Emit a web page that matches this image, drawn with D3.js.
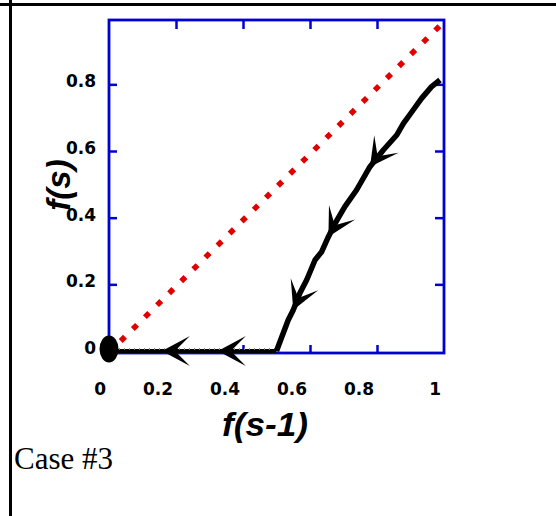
<!DOCTYPE html>
<html>
<head>
<meta charset="utf-8">
<script src="https://cdn.jsdelivr.net/npm/d3@7"></script>
<style>
  html, body { margin: 0; padding: 0; background: #fff; }
  .tick-label { font-family: "DejaVu Sans", sans-serif; font-weight: bold; font-size: 17px; }
  .axis-title { font-family: "Liberation Sans", Arial, sans-serif; font-weight: bold; font-style: italic; font-size: 33px; }
  .caption { font-family: "Liberation Serif", "Times New Roman", serif; font-size: 31px; }
</style>
</head>
<body>
<div class="chart"></div>
<script>
// Case #3: f(s) against f(s-1)
var xTicks = [0, 0.2, 0.4, 0.6, 0.8, 1];
var xTickLabels = ["0", "0.2", "0.4", "0.6", "0.8", "1"];
var yTicks = [0, 0.2, 0.4, 0.6, 0.8];
var yTickLabels = ["0", "0.2", "0.4", "0.6", "0.8"];

// red dotted y = x reference
var diagX = [0.035, 0.99];
var diagY = [0.03, 0.978];

// black trajectory
var pathX = [0, 0.5, 0.516, 0.535, 0.550, 0.570, 0.590, 0.615, 0.635, 0.655, 0.675,
             0.704, 0.739, 0.779, 0.819, 0.859, 0.879, 0.908, 0.933, 0.963, 0.988];
var pathY = [0, 0, 0.043, 0.093, 0.123, 0.174, 0.213, 0.273, 0.298, 0.343, 0.383,
             0.433, 0.483, 0.553, 0.603, 0.648, 0.683, 0.723, 0.758, 0.793, 0.813];

// arrow heads (tips) along the trajectory
var arrowX = [0.158, 0.325, 0.550, 0.655, 0.779];
var arrowY = [0, 0, 0.123, 0.343, 0.553];

// start point marker
var startX = 0, startY = 0;

var svgWidth = 556, svgHeight = 516;

var svg = d3.select(".chart")
    .append("svg")
    .attr("width", svgWidth)
    .attr("height", svgHeight);

// table cell borders
svg.append("rect").attr("x", 0).attr("y", 3).attr("width", svgWidth).attr("height", 3).attr("fill", "#000");
svg.append("rect").attr("x", 9).attr("y", 0).attr("width", 3).attr("height", svgHeight).attr("fill", "#000");

var xScale = d3.scaleLinear().domain([0, 1]).range([109, 444]);
var yScale = d3.scaleLinear().domain([-0.006, 0.993]).range([353, 20]);

var blue = "#0000d2";
var x0 = xScale(0), x1 = xScale(1);
var yBot = yScale(-0.006), yTop = yScale(0.993);

var chart = svg.append("g");

// inner ticks, all four sides
var innerX = xTicks.slice(1, -1);
var innerY = yTicks.slice(1);

function styleTicks(g) {
    g.select(".domain").remove();
    g.selectAll("line").attr("stroke", blue).attr("stroke-width", 2.5);
}

chart.append("g")
    .attr("transform", "translate(0," + yBot + ")")
    .call(d3.axisBottom(xScale).tickValues(innerX).tickSize(-8).tickFormat(""))
    .call(styleTicks);
chart.append("g")
    .attr("transform", "translate(0," + yTop + ")")
    .call(d3.axisTop(xScale).tickValues(innerX).tickSize(-9).tickFormat(""))
    .call(styleTicks);
chart.append("g")
    .attr("transform", "translate(" + x0 + ",0)")
    .call(d3.axisLeft(yScale).tickValues(innerY).tickSize(-8).tickFormat(""))
    .call(styleTicks);
chart.append("g")
    .attr("transform", "translate(" + x1 + ",0)")
    .call(d3.axisRight(yScale).tickValues(innerY).tickSize(-9).tickFormat(""))
    .call(styleTicks);

// frame
chart.append("rect")
    .attr("x", x0).attr("y", yTop)
    .attr("width", x1 - x0).attr("height", yBot - yTop)
    .attr("fill", "none")
    .attr("stroke", blue)
    .attr("stroke-width", 2.8);

// tick labels
chart.selectAll(".xlab")
    .data(xTicks)
    .enter()
    .append("text")
    .attr("class", "tick-label")
    .attr("x", function(d) { return xScale(d) - 3; })
    .attr("y", 395)
    .attr("text-anchor", "end")
    .text(function(d, i) { return xTickLabels[i]; });

chart.selectAll(".ylab")
    .data(yTicks)
    .enter()
    .append("text")
    .attr("class", "tick-label")
    .attr("x", x0 - 13)
    .attr("y", function(d) { return yScale(d) + 3; })
    .attr("text-anchor", "end")
    .text(function(d, i) { return yTickLabels[i]; });

// y = x dotted line
var line = d3.line()
    .x(function(d) { return xScale(d[0]); })
    .y(function(d) { return yScale(d[1]); });

chart.append("path")
    .datum(d3.zip(diagX, diagY))
    .attr("d", line)
    .attr("fill", "none")
    .attr("stroke", "#e00000")
    .attr("stroke-width", 5.5)
    .attr("stroke-dasharray", "6,11");

// trajectory
var traj = d3.zip(pathX, pathY);
chart.append("path")
    .datum(traj.slice(0, 2))
    .attr("d", line)
    .attr("fill", "none")
    .attr("stroke", "#000")
    .attr("stroke-width", 4);
chart.append("path")
    .datum(traj.slice(0, 2))
    .attr("d", line)
    .attr("transform", "translate(0,-2)")
    .attr("fill", "none")
    .attr("stroke", "#888")
    .attr("stroke-width", 2)
    .attr("stroke-dasharray", "1,4");
chart.append("path")
    .datum(traj.slice(1))
    .attr("d", line)
    .attr("fill", "none")
    .attr("stroke", "#000")
    .attr("stroke-width", 5.5)
    .attr("stroke-linejoin", "round");

// barbed arrow heads pointing back along the trajectory
function nearestIndex(px, py) {
    var best = 0, bestD = Infinity;
    traj.forEach(function(p, i) {
        var d = Math.pow(p[0] - px, 2) + Math.pow(p[1] - py, 2);
        if (d < bestD) { bestD = d; best = i; }
    });
    return best;
}

chart.selectAll(".arrow")
    .data(d3.zip(arrowX, arrowY))
    .enter()
    .append("path")
    .attr("class", "arrow")
    .attr("d", "M0,0 L28,-15 L13,0 L28,15 Z")
    .attr("fill", "#000")
    .attr("transform", function(d) {
        var tx = xScale(d[0]), ty = yScale(d[1]);
        var i = nearestIndex(d[0], d[1]);
        var a, b;
        if (d[1] === 0) { a = traj[0]; b = traj[1]; }
        else { a = traj[Math.max(1, i - 2)]; b = traj[Math.min(traj.length - 1, i + 2)]; }
        var ang = Math.atan2(yScale(b[1]) - yScale(a[1]), xScale(b[0]) - xScale(a[0])) * 180 / Math.PI;
        return "translate(" + tx + "," + ty + ") rotate(" + ang + ")";
    });

// start marker
chart.append("ellipse")
    .attr("cx", xScale(startX))
    .attr("cy", yScale(startY) - 2)
    .attr("rx", 9.5)
    .attr("ry", 13.5)
    .attr("fill", "#000");

// axis titles
chart.append("text")
    .attr("class", "axis-title")
    .attr("x", 265)
    .attr("y", 436)
    .attr("text-anchor", "middle")
    .attr("textLength", 86)
    .attr("lengthAdjust", "spacingAndGlyphs")
    .text("f(s-1)");

chart.append("text")
    .attr("class", "axis-title")
    .attr("transform", "translate(70,185) rotate(-90)")
    .attr("text-anchor", "middle")
    .text("f(s)");

svg.append("text")
    .attr("class", "caption")
    .attr("x", 14)
    .attr("y", 469)
    .text("Case #3");
</script>
</body>
</html>
